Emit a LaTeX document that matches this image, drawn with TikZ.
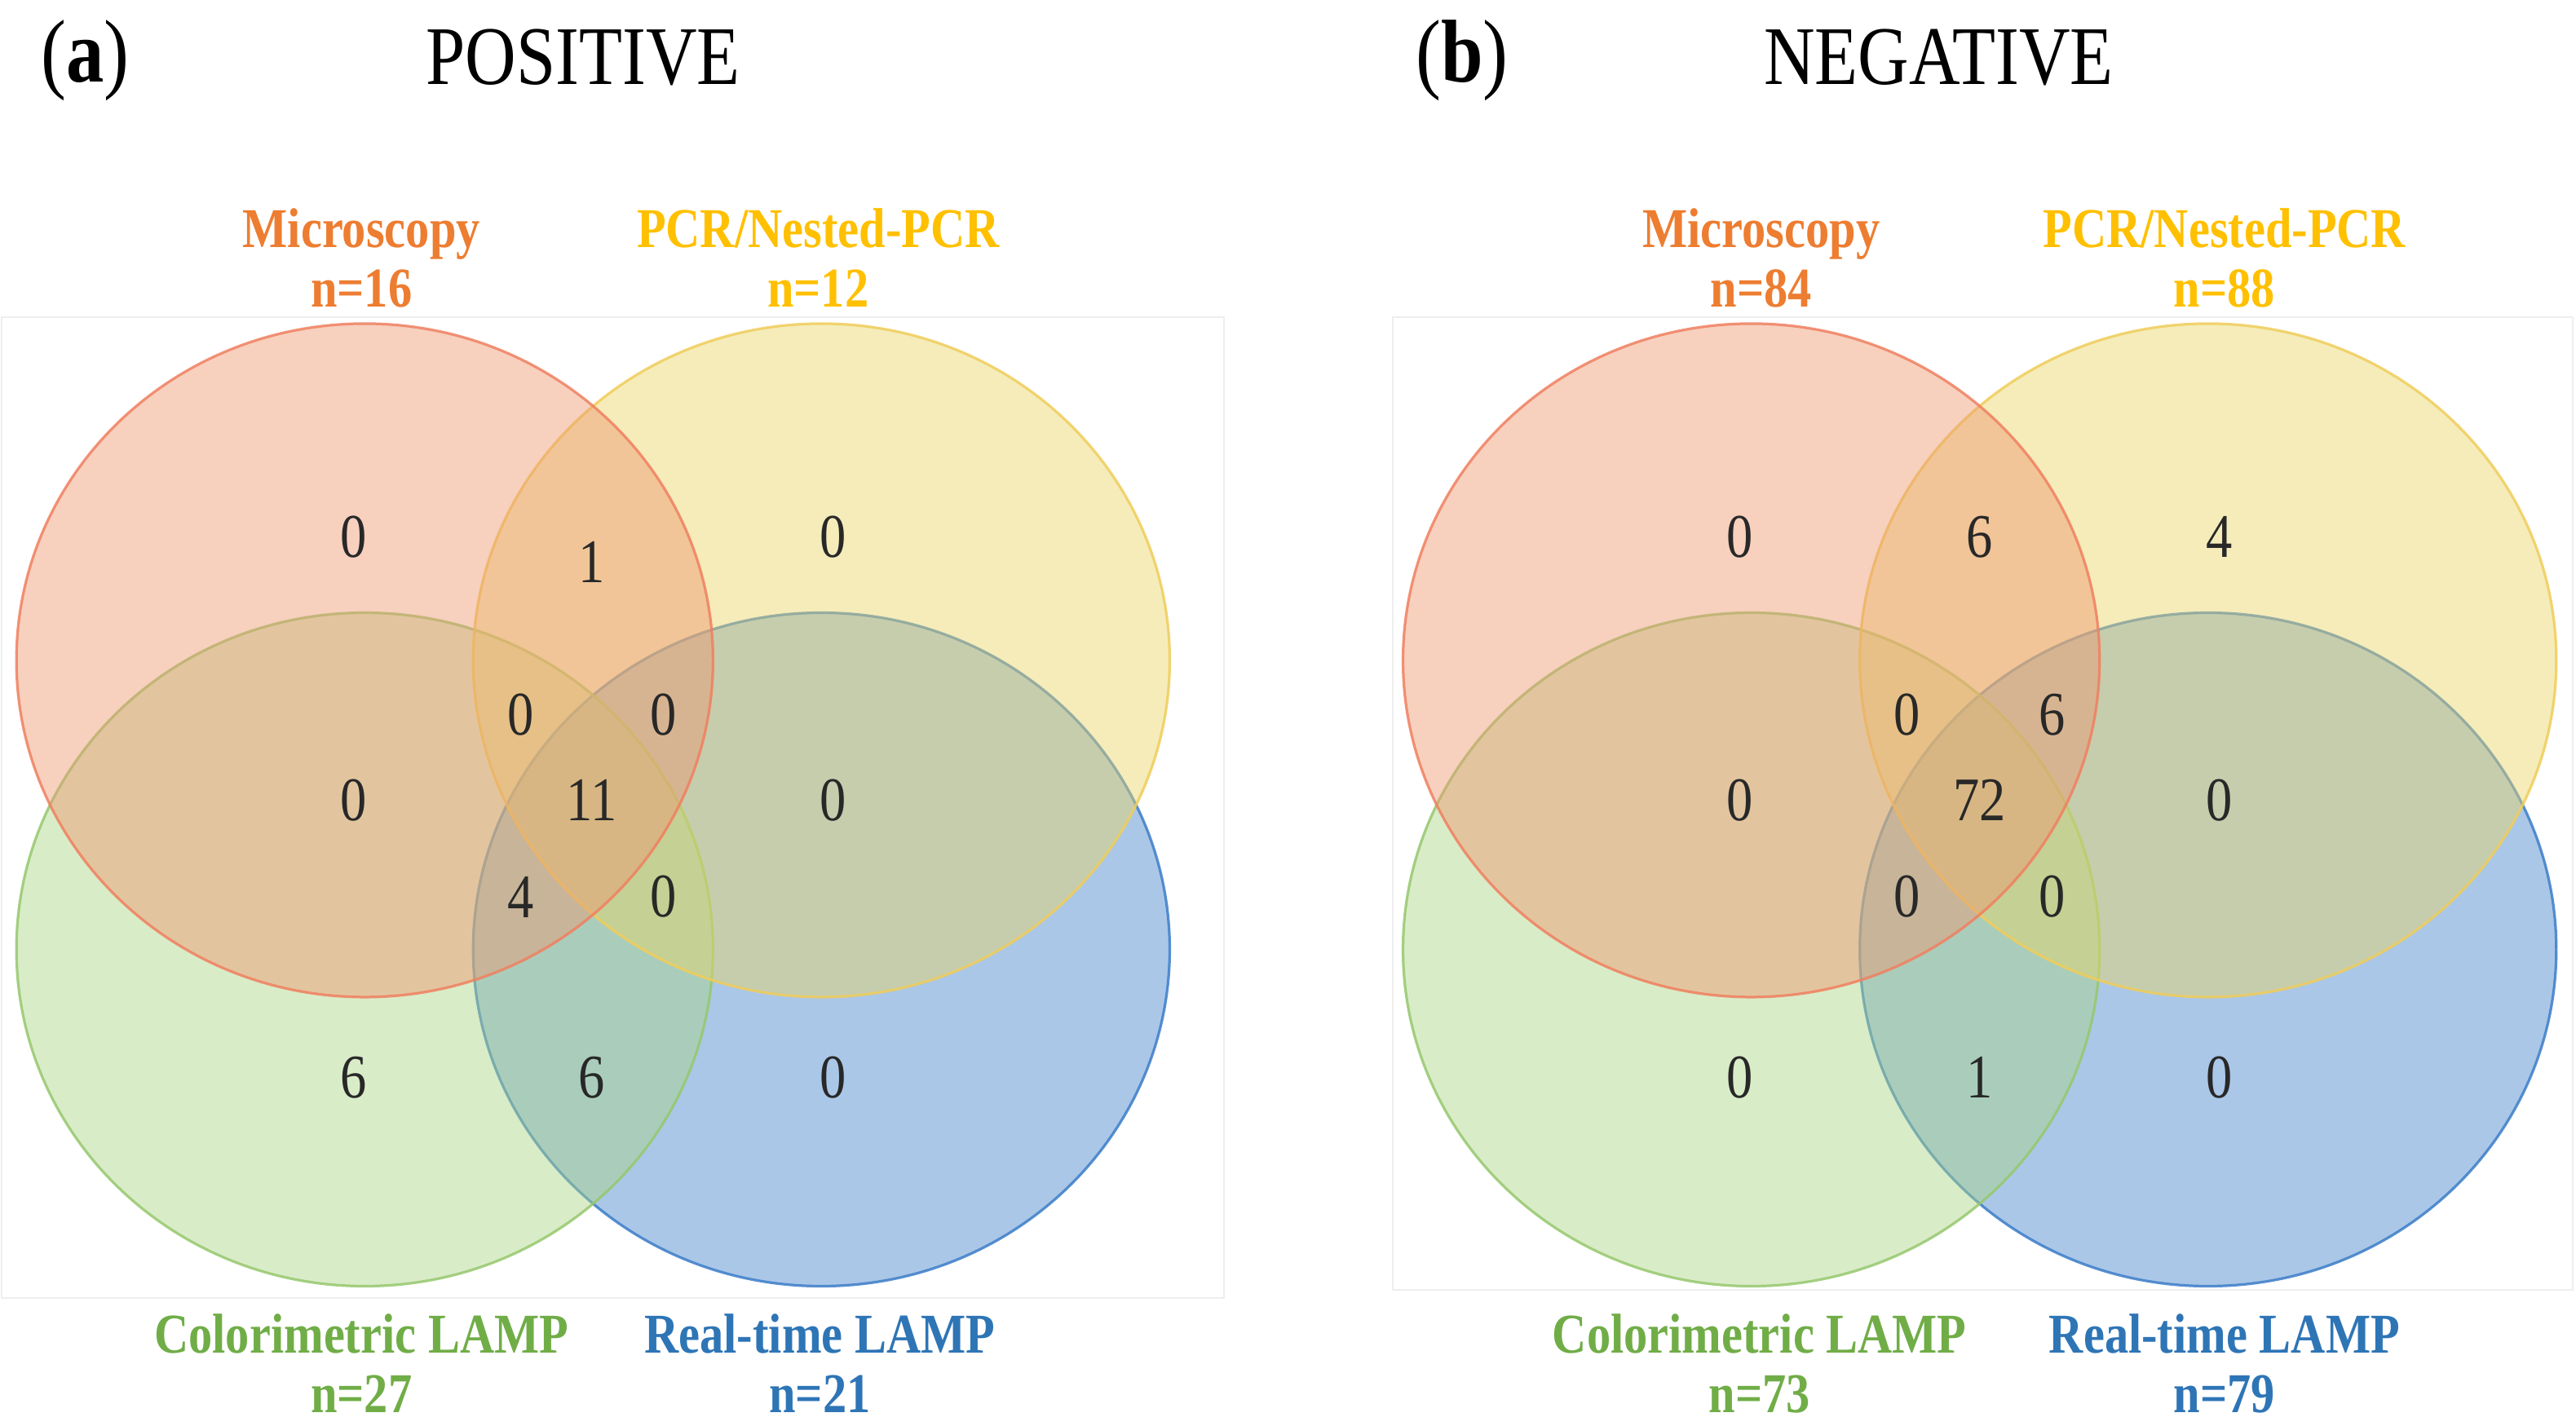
\documentclass[tikz,border=0pt]{standalone}
\usepackage{fontspec}
\setmainfont{Liberation Serif}
\usepackage{graphicx}
\newcommand{\vs}[1]{\scalebox{1}[1.18]{#1}}
\definecolor{micF}{RGB}{237,151,111}
\definecolor{micD}{RGB}{240,128,96}
\definecolor{pcrF}{RGB}{233,213,102}
\definecolor{pcrD}{RGB}{240,205,90}
\definecolor{colF}{RGB}{171,213,133}
\definecolor{colD}{RGB}{150,200,110}
\definecolor{rtF}{RGB}{66,131,204}
\definecolor{rtD}{RGB}{60,125,200}
\definecolor{micT}{RGB}{237,125,49}
\definecolor{pcrT}{RGB}{255,192,0}
\definecolor{colT}{RGB}{112,173,71}
\definecolor{rtT}{RGB}{46,117,182}
\definecolor{numT}{RGB}{40,40,40}
\definecolor{boxT}{RGB}{238,238,238}
\tikzset{
  venn/.style={line width=1.6pt, fill opacity=0.45, draw opacity=0.85},
  num/.style={font=\fontsize{32}{36}\selectfont, text=numT, inner sep=0pt},
  setlabel/.style={font=\fontsize{29}{36}\selectfont\bfseries, align=center, inner sep=0pt},
  title/.style={font=\fontsize{43}{48}\selectfont, inner sep=0pt},
  panel/.style={font=\fontsize{46}{50}\selectfont, inner sep=0pt},
  boxline/.style={draw=boxT, line width=1pt}
}
\begin{document}
\begin{tikzpicture}[x=1pt, y=-1pt]
\useasboundingbox (0,0) rectangle (1568,868);
% faint panel frames
\draw[boxline] (1,193) rectangle (745,790);
\draw[boxline] (848,193) rectangle (1566,785);
% titles
\node[panel] (pa) at (52,37) {\vs{(\textbf{a})}};
\node[title] (ta) at (355,35) {\vs{POSITIVE}};
\node[panel] (pb) at (890,37) {\vs{(\textbf{b})}};
\node[title] (tb) at (1180,35) {\vs{NEGATIVE}};
% panel a circles (drawn bottom to top: blue, green, yellow, red)
\path[venn, fill=rtF, draw=rtD] (500,578) ellipse [x radius=212, y radius=205];
\path[venn, fill=colF, draw=colD] (222,578) ellipse [x radius=212, y radius=205];
\path[venn, fill=pcrF, draw=pcrD] (500,402) ellipse [x radius=212, y radius=205];
\path[venn, fill=micF, draw=micD] (222,402) ellipse [x radius=212, y radius=205];
% panel b circles
\path[venn, fill=rtF, draw=rtD] (1344,578) ellipse [x radius=212, y radius=205];
\path[venn, fill=colF, draw=colD] (1066,578) ellipse [x radius=212, y radius=205];
\path[venn, fill=pcrF, draw=pcrD] (1344,402) ellipse [x radius=212, y radius=205];
\path[venn, fill=micF, draw=micD] (1066,402) ellipse [x radius=212, y radius=205];
% panel a labels
\node[setlabel, text=micT] (a-lm) at (220,157) {\vs{Microscopy}\\\vs{n=16}};
\node[setlabel, text=pcrT] (a-lp) at (498,157) {\vs{PCR/Nested-PCR}\\\vs{n=12}};
\node[setlabel, text=colT] (a-lc) at (220,830) {\vs{Colorimetric LAMP}\\\vs{n=27}};
\node[setlabel, text=rtT] (a-lr) at (499,830) {\vs{Real-time LAMP}\\\vs{n=21}};
% panel b labels
\node[setlabel, text=micT] (b-lm) at (1072,157) {\vs{Microscopy}\\\vs{n=84}};
\node[setlabel, text=pcrT] (b-lp) at (1354,157) {\vs{PCR/Nested-PCR}\\\vs{n=88}};
\node[setlabel, text=colT] (b-lc) at (1071,830) {\vs{Colorimetric LAMP}\\\vs{n=73}};
\node[setlabel, text=rtT] (b-lr) at (1354,830) {\vs{Real-time LAMP}\\\vs{n=79}};
% panel a numbers
\node[num] (a-m) at (215,327) {\vs{0}};
\node[num] (a-mp) at (360,342) {\vs{1}};
\node[num] (a-p) at (507,327) {\vs{0}};
\node[num] (a-mcp) at (317,435) {\vs{0}};
\node[num] (a-mpr) at (404,435) {\vs{0}};
\node[num] (a-mc) at (215,487) {\vs{0}};
\node[num] (a-all) at (360,487) {\vs{11}};
\node[num] (a-pr) at (507,487) {\vs{0}};
\node[num] (a-mcr) at (317,546) {\vs{4}};
\node[num] (a-pcr) at (404,546) {\vs{0}};
\node[num] (a-c) at (215,656) {\vs{6}};
\node[num] (a-cr) at (360,656) {\vs{6}};
\node[num] (a-r) at (507,656) {\vs{0}};
% panel b numbers
\node[num] (b-m) at (1059,327) {\vs{0}};
\node[num] (b-mp) at (1205,327) {\vs{6}};
\node[num] (b-p) at (1351,327) {\vs{4}};
\node[num] (b-mcp) at (1161,435) {\vs{0}};
\node[num] (b-mpr) at (1249,435) {\vs{6}};
\node[num] (b-mc) at (1059,487) {\vs{0}};
\node[num] (b-all) at (1205,487) {\vs{72}};
\node[num] (b-pr) at (1351,487) {\vs{0}};
\node[num] (b-mcr) at (1161,546) {\vs{0}};
\node[num] (b-pcr) at (1249,546) {\vs{0}};
\node[num] (b-c) at (1059,656) {\vs{0}};
\node[num] (b-cr) at (1205,656) {\vs{1}};
\node[num] (b-r) at (1351,656) {\vs{0}};
\end{tikzpicture}
\end{document}
